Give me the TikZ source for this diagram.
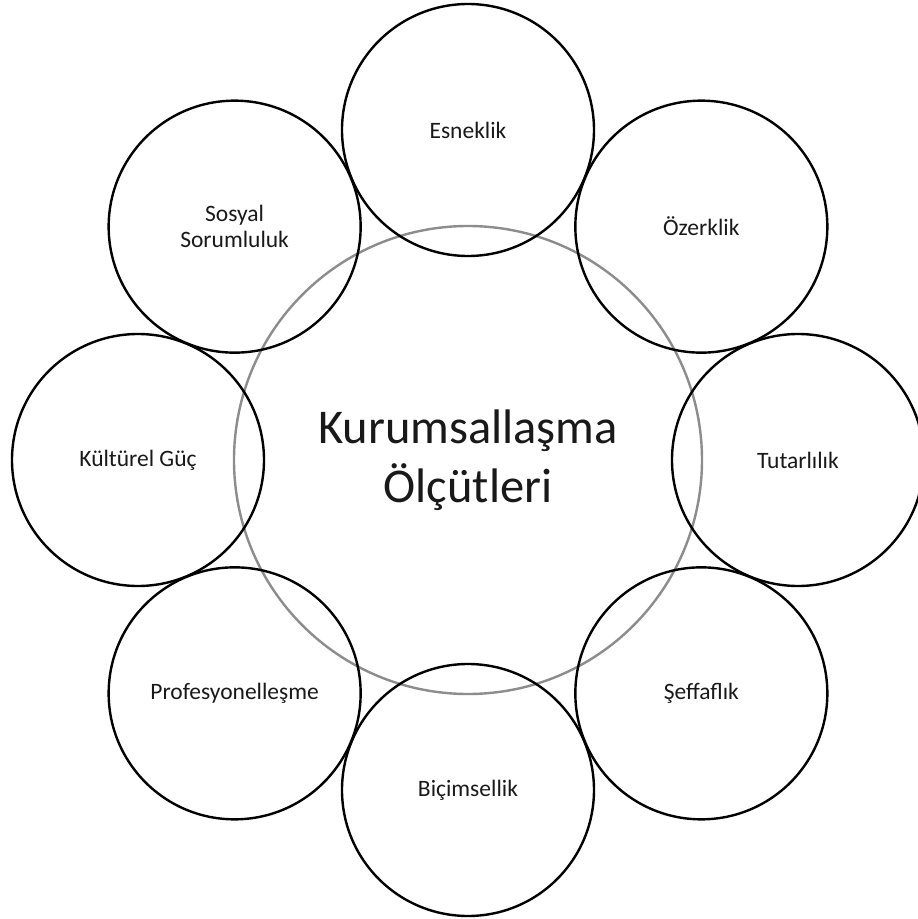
\documentclass[tikz,border=0pt]{standalone}
\usepackage{fontspec}
\setmainfont{Carlito}
\usetikzlibrary{positioning}

\begin{document}
\begin{tikzpicture}
[x=1pt,y=1pt,
core/.style={circle,draw=black!45,line width=2.4pt,minimum size=468pt,inner sep=0pt,align=center,text=black!90,font=\fontsize{48.5}{59}\selectfont},
criterion/.style={circle,draw=black,line width=2.4pt,minimum size=252pt,inner sep=0pt,align=center,text=black!90,font=\fontsize{23.5}{26.5}\selectfont}]
\useasboundingbox (-468,-459) rectangle (450,460);
\node (kurum) at (0,0) [core] {Kurumsalla\c{s}ma\\\"Ol\c{c}\"utleri};
\node (esneklik) at (90:330) [criterion] {Esneklik};
\node (ozerklik) at (45:330) [criterion] {\"Ozerklik};
\node (tutarlilik) at (0:330) [criterion] {Tutarl\i l\i k};
\node (seffaflik) at (-45:330) [criterion] {\c{S}effafl\i k};
\node (bicimsellik) at (-90:330) [criterion] {Bi\c{c}imsellik};
\node (profesyonel) at (-135:330) [criterion] {Profesyonelle\c{s}me};
\node (kultur) at (180:330) [criterion] {K\"ult\"urel G\"u\c{c}};
\node (sosyal) at (135:330) [criterion] {Sosyal\\Sorumluluk};
\end{tikzpicture}
\end{document}
